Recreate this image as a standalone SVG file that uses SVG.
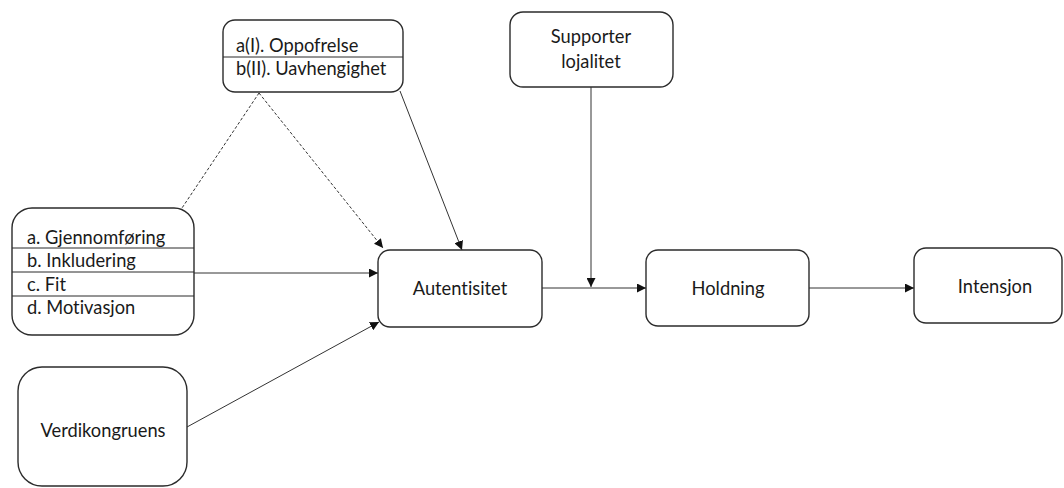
<svg xmlns="http://www.w3.org/2000/svg" width="1064" height="488" viewBox="0 0 1064 488">
  <style>
    .box { fill: #ffffff; stroke: #2b2b2b; stroke-width: 1.4; }
    .div { stroke: #2b2b2b; stroke-width: 1; }
    .lbl { font-family: "Lato", "Liberation Sans", sans-serif; font-size: 18.3px; fill: #1a1a1a; font-variant-ligatures: none; }
    .mid { text-anchor: middle; }
    .edge { fill: none; stroke: #333333; stroke-width: 1; }
    .dash { stroke-dasharray: 3 2; }
  </style>
  <defs>
    <marker id="arrow" viewBox="0 0 10 10" refX="10" refY="5" markerWidth="9" markerHeight="9" markerUnits="userSpaceOnUse" orient="auto">
      <path d="M0,0 L10,5 L0,10 z" fill="#111111"/>
    </marker>
  </defs>

  <rect width="1064" height="488" fill="#ffffff"/>

  <!-- connectors -->
  <g id="connectors">
    <line class="edge dash" x1="259" y1="93" x2="182" y2="208"/>
    <line class="edge dash" x1="259" y1="93" x2="383" y2="248" marker-end="url(#arrow)"/>
    <line class="edge" x1="400" y1="91" x2="462" y2="250" marker-end="url(#arrow)"/>
    <line class="edge" x1="194" y1="273" x2="378" y2="273" marker-end="url(#arrow)"/>
    <line class="edge" x1="187" y1="427" x2="379" y2="322" marker-end="url(#arrow)"/>
    <line class="edge" x1="542" y1="288" x2="646" y2="288" marker-end="url(#arrow)"/>
    <line class="edge" x1="591" y1="87" x2="591" y2="287" marker-end="url(#arrow)"/>
    <line class="edge" x1="809" y1="288" x2="914" y2="288" marker-end="url(#arrow)"/>
  </g>

  <!-- mediator group: sacrifice / independence -->
  <g id="node-oppofrelse">
    <rect class="box" x="223" y="20" width="180" height="72" rx="12"/>
    <line class="div" x1="223" y1="57" x2="403" y2="57"/>
    <text class="lbl" x="236" y="52">a(I). Oppofrelse</text>
    <text class="lbl" x="236" y="75">b(II). Uavhengighet</text>
  </g>

  <g id="node-supporter">
    <rect class="box" x="510" y="12" width="163" height="75" rx="13"/>
    <text class="lbl mid" x="591" y="43">Supporter</text>
    <text class="lbl mid" x="591" y="68">lojalitet</text>
  </g>

  <g id="node-faktorer">
    <rect class="box" x="12" y="208" width="182" height="127" rx="20"/>
    <line class="div" x1="12" y1="248" x2="194" y2="248"/>
    <line class="div" x1="12" y1="272" x2="194" y2="272"/>
    <line class="div" x1="12" y1="296" x2="194" y2="296"/>
    <text class="lbl" x="27" y="244">a. Gjennomføring</text>
    <text class="lbl" x="27" y="267">b. Inkludering</text>
    <text class="lbl" x="27" y="291">c. Fit</text>
    <text class="lbl" x="27" y="314">d. Motivasjon</text>
  </g>

  <g id="node-verdikongruens">
    <rect class="box" x="18" y="367" width="169" height="119" rx="24"/>
    <text class="lbl mid" x="103" y="437">Verdikongruens</text>
  </g>

  <g id="node-autentisitet">
    <rect class="box" x="378" y="250" width="164" height="77" rx="12"/>
    <text class="lbl mid" x="460" y="295">Autentisitet</text>
  </g>

  <g id="node-holdning">
    <rect class="box" x="646" y="250" width="163" height="76" rx="12"/>
    <text class="lbl mid" x="728" y="295">Holdning</text>
  </g>

  <g id="node-intensjon">
    <rect class="box" x="914" y="248" width="148" height="75" rx="12"/>
    <text class="lbl mid" x="995" y="293">Intensjon</text>
  </g>
</svg>
